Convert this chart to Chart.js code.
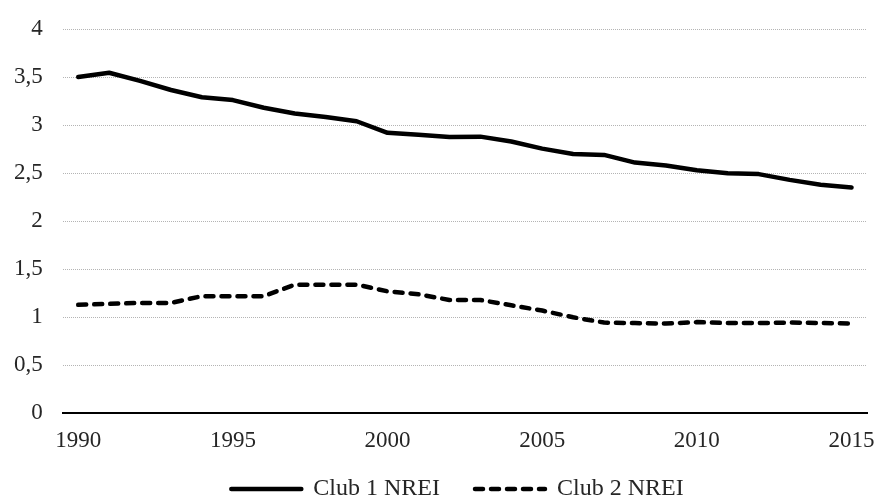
<!DOCTYPE html>
<html lang="en">
<head>
    <meta charset="UTF-8">
    <title>Club NREI</title>
    <style>
        body { margin: 0; background: #fff; }
        #wrap { width: 877px; height: 500px; }
    </style>
</head>
<body>
<div id="wrap">
    <canvas height="500" id="nreiChart" width="877"></canvas>
</div>
<script src="https://cdn.jsdelivr.net/npm/chart.js"></script>
<script>
  // data
  const years = [1990, 1991, 1992, 1993, 1994, 1995, 1996, 1997, 1998, 1999, 2000, 2001, 2002,
    2003, 2004, 2005, 2006, 2007, 2008, 2009, 2010, 2011, 2012, 2013, 2014, 2015];
  const club1 = [3.50, 3.545, 3.46, 3.365, 3.29, 3.26, 3.18, 3.12, 3.085, 3.04, 2.92, 2.90, 2.875,
    2.88, 2.83, 2.755, 2.70, 2.69, 2.61, 2.58, 2.53, 2.50, 2.49, 2.43, 2.38, 2.35];
  const club2 = [1.13, 1.14, 1.15, 1.15, 1.22, 1.22, 1.22, 1.34, 1.34, 1.34, 1.27, 1.24, 1.18,
    1.18, 1.125, 1.07, 1.00, 0.945, 0.94, 0.935, 0.95, 0.94, 0.94, 0.945, 0.94, 0.935];
  const seriesNames = ['Club 1 NREI', 'Club 2 NREI'];
  const xLabelYears = [1990, 1995, 2000, 2005, 2010, 2015];

  const textColor = '#262626';
  const fontFamily = '"Liberation Serif", "Times New Roman", serif';

  // legend: keep wide gap between items but less space above them
  const legendTrim = 25;
  const legendLift = 27;
  const legendShiftX = 22;
  const legendTweak = {
    id: 'legendTweak',
    beforeLayout(chart) {
      const lg = chart.legend;
      if (lg && !lg._trimmed) {
        const fit = lg.fit.bind(lg);
        lg.fit = function () {
          fit();
          this.height -= legendTrim;
        };
        lg._trimmed = true;
      }
    },
    afterLayout(chart) {
      const lg = chart.legend;
      lg.top -= legendLift;
      lg.left += legendShiftX;
      lg.right += legendShiftX;
    }
  };

  // line datasets: club 1 solid, club 2 dashed
  new Chart(document.getElementById('nreiChart').getContext('2d'), {
    type: 'line',
    data: {
      labels: years,
      datasets: [{
        label: seriesNames[0],
        data: club1,
        borderColor: '#000',
        borderWidth: 4.5,
        borderJoinStyle: 'round',
        borderCapStyle: 'round',
        pointRadius: 0,
        tension: 0
      }, {
        label: seriesNames[1],
        data: club2,
        borderColor: '#000',
        borderWidth: 4.5,
        borderDash: [8, 8],
        borderJoinStyle: 'round',
        borderCapStyle: 'round',
        pointRadius: 0,
        tension: 0
      }]
    },
    options: {
      responsive: false,
      animation: false,
      layout: { padding: { top: 0, left: -6, right: 0, bottom: -13 } },
      plugins: {
        tooltip: { enabled: false },
        legend: {
          position: 'bottom',
          labels: {
            usePointStyle: true,
            pointStyle: 'line',
            pointStyleWidth: 70,
            padding: 35,
            color: textColor,
            font: { family: fontFamily, size: 24 },
            generateLabels: function (chart) {
              const items = Chart.defaults.plugins.legend.labels.generateLabels(chart);
              items.forEach((item, i) => {
                const ds = chart.data.datasets[i];
                item.lineDash = ds.borderDash || [];
                item.lineWidth = ds.borderWidth;
                item.lineCap = 'round';
              });
              return items;
            }
          }
        }
      },
      scales: {
        x: {
          offset: true,
          grid: { display: false, drawTicks: false },
          border: { display: true, color: '#000', width: 2 },
          afterFit: function (scale) {
            scale.paddingRight = 10;
          },
          ticks: {
            autoSkip: false,
            maxRotation: 0,
            padding: 14,
            color: textColor,
            font: { family: fontFamily, size: 23 },
            callback: function (val, idx) {
              return xLabelYears.includes(years[idx]) ? String(years[idx]) : '';
            }
          }
        },
        y: {
          min: 0,
          max: 4,
          grid: {
            drawTicks: false,
            color: '#b4b4b4',
            lineWidth: 1
          },
          border: { display: false, dash: [1, 1] },
          afterFit: function (scale) {
            scale.paddingTop = 29;
          },
          ticks: {
            stepSize: 0.5,
            padding: 20,
            color: textColor,
            font: { family: fontFamily, size: 23 },
            callback: function (value) {
              return String(value).replace('.', ',');
            }
          }
        }
      }
    },
    plugins: [legendTweak]
  });
</script>
</body>
</html>
